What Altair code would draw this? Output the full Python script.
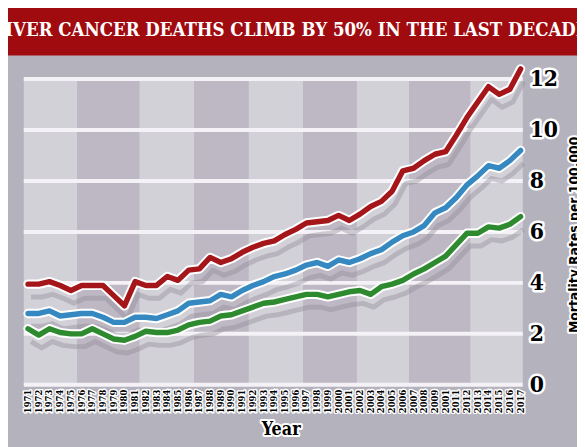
import altair as alt
import pandas as pd

years = list(range(1971, 2018))
year_labels = ["1971", "1972", "1973", "1974", "1975", "1976", "1977", "1978", "1979", "1980",
               "1981", "1982", "1983", "1984", "1985", "1986", "1987", "1988", "1989", "1990",
               "1991", "1992", "1993", "1994", "1995", "1996", "1997", "1998", "1999", "2000",
               "2001", "2002", "2003", "2004", "2005", "2006", "2007", "2008", "2009", "2001",
               "2011", "2012", "2013", "2014", "2015", "2016", "2017"]

red_values = [3.95, 3.95, 4.05, 3.9, 3.7, 3.9, 3.9, 3.9, 3.5, 3.1,
              4.05, 3.9, 3.9, 4.25, 4.1, 4.5, 4.55, 5.0, 4.8, 4.95,
              5.2, 5.4, 5.55, 5.65, 5.9, 6.1, 6.35, 6.4, 6.45, 6.65,
              6.45, 6.7, 7.0, 7.2, 7.6, 8.4, 8.5, 8.8, 9.05, 9.15,
              9.8, 10.5, 11.1, 11.7, 11.4, 11.6, 12.4]
blue_values = [2.8, 2.8, 2.9, 2.7, 2.75, 2.8, 2.8, 2.65, 2.45, 2.45,
               2.65, 2.65, 2.6, 2.75, 2.9, 3.2, 3.25, 3.3, 3.55, 3.45,
               3.7, 3.9, 4.05, 4.25, 4.35, 4.5, 4.7, 4.8, 4.65, 4.9,
               4.8, 4.95, 5.15, 5.3, 5.6, 5.85, 6.0, 6.25, 6.75, 6.95,
               7.35, 7.85, 8.2, 8.6, 8.5, 8.8, 9.2]
green_values = [2.2, 1.95, 2.2, 2.05, 2.0, 2.0, 2.2, 2.0, 1.8, 1.75,
                1.9, 2.1, 2.05, 2.05, 2.15, 2.35, 2.45, 2.5, 2.7, 2.75,
                2.9, 3.05, 3.2, 3.25, 3.35, 3.45, 3.55, 3.55, 3.45, 3.55,
                3.65, 3.7, 3.55, 3.85, 3.95, 4.1, 4.35, 4.55, 4.8, 5.05,
                5.5, 5.95, 5.95, 6.2, 6.15, 6.3, 6.6]

series_names = ["Red", "Blue", "Green"]
series_colors = ["#a5161b", "#3588c0", "#2e8a2f"]

y_ticks = [0, 2, 4, 6, 8, 10, 12]
y_tick_labels = ["0", "2", "4", "6", "8", "10", "12"]

band_start = [1970.6, 1975.6, 1981.4, 1986.5, 1991.6, 1996.7, 2001.7, 2006.6, 2012.3]
band_end = [1975.6, 1981.4, 1986.5, 1991.6, 1996.7, 2001.7, 2006.6, 2012.3, 2017.2]
band_shade = ["light", "dark", "light", "dark", "light", "dark", "light", "dark", "light"]

title_text = "LIVER CANCER DEATHS CLIMB BY 50% IN THE LAST DECADE"
x_title = "Year"
y_title = "Mortality Rates per 100,000"

W, H = 506, 310

rows = []
for name, vals in zip(series_names, [red_values, blue_values, green_values]):
    for yr, v in zip(years, vals):
        rows.append({"year": yr, "value": v, "series": name})
lines_df = pd.DataFrame(rows)
bands_df = pd.DataFrame({"start": band_start, "end": band_end, "shade": band_shade})
ticks_df = pd.DataFrame({"v": y_ticks, "label": y_tick_labels})
xlab_df = pd.DataFrame({"year": years, "label": year_labels})

xs = alt.Scale(domain=[1970.6, 2017.2], nice=False, zero=False)
ys = alt.Scale(domain=[0, 12], nice=False, zero=False)
cs = alt.Scale(domain=series_names, range=series_colors)

serif = "DejaVu Serif Condensed"
narrow = "DejaVu Sans Condensed"

bands = alt.Chart(bands_df).mark_rect().encode(
    x=alt.X("start:Q", scale=xs, axis=None),
    x2="end:Q",
    y=alt.value(0),
    y2=alt.value(H),
    fill=alt.Fill("shade:N", scale=alt.Scale(domain=["light", "dark"], range=["#d3d1d8", "#bdb8c3"]), legend=None),
)

grid = alt.Chart(ticks_df).mark_rule(color="#f4f2f6", strokeWidth=4).encode(
    y=alt.Y("v:Q", scale=ys, axis=None),
    x=alt.value(0),
    x2=alt.value(W),
)

base = alt.Chart(lines_df).encode(
    x=alt.X("year:Q", scale=xs, axis=None),
    y=alt.Y("value:Q", scale=ys, axis=None),
    detail="series:N",
)
shadow = base.mark_line(color="#8e8a95", strokeWidth=5, opacity=0.4, xOffset=3, yOffset=13, strokeJoin="round")
casing = base.mark_line(color="white", strokeWidth=9.5, strokeJoin="round", strokeCap="round")
colored = base.mark_line(strokeWidth=5.5, strokeJoin="round", strokeCap="round").encode(
    stroke=alt.Stroke("series:N", scale=cs, legend=None)
)

xl_base = alt.Chart(xlab_df).encode(
    x=alt.X("year:Q", scale=xs, axis=None),
    y=alt.value(H + 5),
    text="label:N",
)
xl_halo = xl_base.mark_text(angle=270, align="right", baseline="middle", font=serif, fontWeight="bold",
                            fontSize=9.5, stroke="white", strokeWidth=3, strokeJoin="round", color="white")
xl_text = xl_base.mark_text(angle=270, align="right", baseline="middle", font=serif, fontWeight="bold",
                            fontSize=9.5, color="black")

yl_base = alt.Chart(ticks_df).encode(
    y=alt.Y("v:Q", scale=ys, axis=None),
    x=alt.value(W + 7),
    text="label:N",
)
yl_halo = yl_base.mark_text(align="left", baseline="middle", font=serif, fontWeight="bold", fontSize=23,
                            stroke="white", strokeWidth=5, strokeJoin="round", color="white")
yl_text = yl_base.mark_text(align="left", baseline="middle", font=serif, fontWeight="bold", fontSize=23,
                            color="black")

texts_df = pd.DataFrame({"t": [x_title]})
xt_halo = alt.Chart(texts_df).mark_text(align="center", baseline="middle", font=serif, fontWeight="bold",
                                        fontSize=18, stroke="white", strokeWidth=4, strokeJoin="round",
                                        color="white").encode(
    x=alt.value(W / 2 + 8), y=alt.value(H + 46), text="t:N")
xt_text = alt.Chart(texts_df).mark_text(align="center", baseline="middle", font=serif, fontWeight="bold",
                                        fontSize=18, color="black").encode(
    x=alt.value(W / 2 + 8), y=alt.value(H + 46), text="t:N")

yt_df = pd.DataFrame({"t": [y_title]})
yt_halo = alt.Chart(yt_df).mark_text(angle=270, align="center", baseline="top",
                                     font=narrow, fontWeight="bold",
                                     fontSize=14, stroke="white", strokeWidth=4, strokeJoin="round",
                                     color="white").encode(
    x=alt.value(W + 46), y=alt.value(158), text="t:N")
yt_text = alt.Chart(yt_df).mark_text(angle=270, align="center", baseline="top",
                                     font=narrow, fontWeight="bold",
                                     fontSize=14, color="black").encode(
    x=alt.value(W + 46), y=alt.value(158), text="t:N")

bar_df = pd.DataFrame({"t": [title_text]})
title_bar = alt.Chart(bar_df).mark_rect(color="#9f0b0f").encode(
    x=alt.value(-30), x2=alt.value(W + 70), y=alt.value(-80), y2=alt.value(-24))
title_txt = alt.Chart(bar_df).mark_text(align="center", baseline="middle",
                                        font=serif, fontWeight="bold", fontSize=18.8, color="white").encode(
    x=alt.value(271), y=alt.value(-50), text="t:N")

chart = alt.layer(
    bands, grid, shadow, casing, colored,
    xl_halo, xl_text, yl_halo, yl_text,
    xt_halo, xt_text, yt_halo, yt_text,
    title_bar, title_txt,
).resolve_scale(fill="independent", stroke="independent").properties(
    width=W, height=H,
    background="#b4b2bd",
    padding={"left": 16, "top": 69, "right": 55, "bottom": 60},
    autosize=alt.AutoSizeParams(type="none"),
).configure_view(stroke=None)

chart.save("out.html", embed_options={"renderer": "svg", "actions": False})
